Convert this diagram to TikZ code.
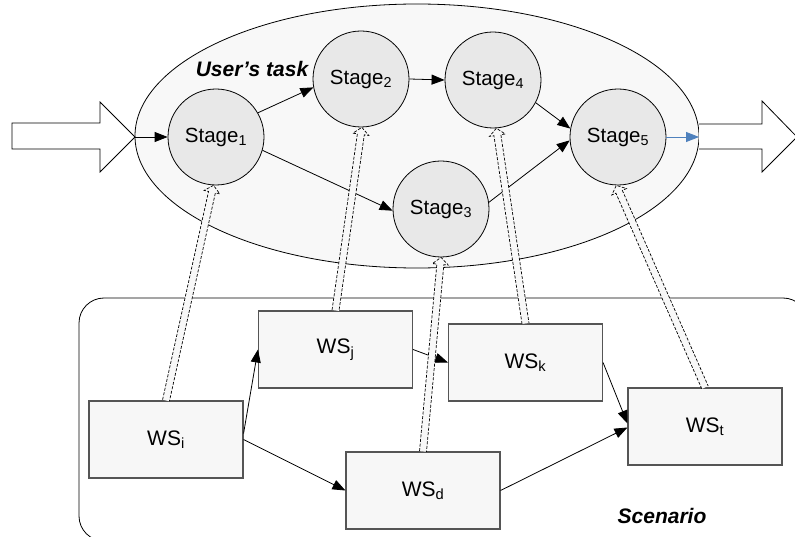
\documentclass[tikz,border=0pt]{standalone}
\usepackage{fontspec}
\setmainfont{Liberation Sans}
\usetikzlibrary{shapes.geometric,arrows.meta,calc}
\definecolor{ellfill}{HTML}{F8F8F8}
\definecolor{stagefill}{HTML}{E8E8E8}
\definecolor{boxfill}{HTML}{F7F7F7}
\definecolor{boxdraw}{HTML}{555555}
\definecolor{flowblue}{HTML}{4F81BD}
\newcommand\hollowarr[2]{%
  \path (#1) coordinate (hA) (#2) coordinate (hB);
  \path ($(hB)!7pt!(hA)$) coordinate (hH);
  \fill[ellfill] ($(hA)!3.5pt!90:(hB)$) -- ($(hH)!3.5pt!90:(hB)$) -- ($(hH)!8pt!90:(hB)$) -- (hB)
     -- ($(hH)!8pt!-90:(hB)$) -- ($(hH)!3.5pt!-90:(hB)$) -- ($(hA)!3.5pt!-90:(hB)$) -- cycle;
  \draw[hollowline] ($(hA)!3.5pt!90:(hB)$) -- ($(hH)!3.5pt!90:(hB)$) -- ($(hH)!8pt!90:(hB)$) -- (hB)
     -- ($(hH)!8pt!-90:(hB)$) -- ($(hH)!3.5pt!-90:(hB)$) -- ($(hA)!3.5pt!-90:(hB)$);
}
\begin{document}
\begin{tikzpicture}[x=1pt,y=-1pt,
  stage/.style={circle, draw, fill=stagefill, minimum size=96pt, inner sep=0pt,
    line width=0.8pt, font=\fontsize{20.5}{24}\selectfont},
  wsbox/.style={rectangle, draw=boxdraw, fill=boxfill, minimum width=154pt,
    minimum height=77pt, inner sep=0pt, line width=1.1pt, font=\fontsize{21}{25}\selectfont},
  flow/.style={-{Triangle[length=13pt,width=10pt]}, line width=0.8pt},
  bigarrow/.style={draw, fill=white, line width=0.8pt, line join=miter},
  hollowline/.style={draw, line width=0.7pt, dash pattern=on 3pt off 1.6pt},
  title/.style={font=\bfseries\itshape\fontsize{21}{25}\selectfont}]
\useasboundingbox (0,0) rectangle (795,537);
\clip (0,0) rectangle (795,537);
% scenario frame
\draw[rounded corners=25pt, line width=0.8pt] (79,298) rectangle (808,541);
% user's task ellipse
\node[ellipse, draw, fill=ellfill, minimum width=564pt, minimum height=264pt,
  inner sep=0pt, line width=0.8pt] (task) at (417,136) {};
% big input / output arrows
\draw[bigarrow] (12,123) -- (100,123) -- (100,102) -- (135,137) coordinate (intip)
  -- (100,172) -- (100,149) -- (12,149) -- cycle;
\draw[bigarrow] (699,124) coordinate (outbase) -- (762,124) -- (762,101) -- (797,137)
  -- (762,172) -- (762,149) -- (699,149);
\coordinate (outin) at (699,137);
% stages
\node[stage] (st1) at (216,137) {Stage\textsubscript{1}};
\node[stage] (st2) at (361,79) {Stage\textsubscript{2}};
\node[stage] (st4) at (493,80) {Stage\textsubscript{4}};
\node[stage] (st5) at (618,137) {Stage\textsubscript{5}};
\node[stage] (st3) at (441,209) {Stage\textsubscript{3}};
\node[title, anchor=base] (utask) at (252,77) {User’s task};
% web services
\node[wsbox] (wsi) at (166,439.5) {WS\textsubscript{i}};
\node[wsbox] (wsj) at (335.5,349.5) {WS\textsubscript{j}};
\node[wsbox] (wsk) at (525.5,362.5) {WS\textsubscript{k}};
\node[wsbox] (wst) at (705,426.5) {WS\textsubscript{t}};
\node[wsbox] (wsd) at (423,490.5) {WS\textsubscript{d}};
\node[title, anchor=base] (scen) at (662,523) {Scenario};
% stage flow
\draw[flow] (intip) -- (st1.west);
\draw[flow] (st1.30) -- (st2.190);
\draw[flow] (st2.east) -- (st4.west);
\draw[flow] (st4.332) -- (st5.170);
\draw[flow] (st1.344) -- (st3.182);
\draw[flow] (st3.8) -- (st5.184);
\draw[flow, draw=flowblue, -{Triangle[length=13pt,width=10pt,fill=flowblue]}] (st5.east) -- (outin);
% service flow
\draw[flow] ([yshift=6pt]wsi.east) -- (wsj.west);
\draw[flow] (wsi.east) -- (wsd.west);
\draw[flow] (wsj.east) -- (wsk.west);
\draw[flow] (wsk.east) -- ([yshift=3pt]wst.west);
\draw[flow] (wsd.east) -- ([yshift=-1pt]wst.west);
% realisation arrows
\hollowarr{wsi.north}{st1.267}
\hollowarr{wsj.north}{st2.271}
\hollowarr{wsd.north}{st3.270}
\hollowarr{wsk.north}{st4.274}
\hollowarr{wst.north}{st5.268}
\end{tikzpicture}
\end{document}
